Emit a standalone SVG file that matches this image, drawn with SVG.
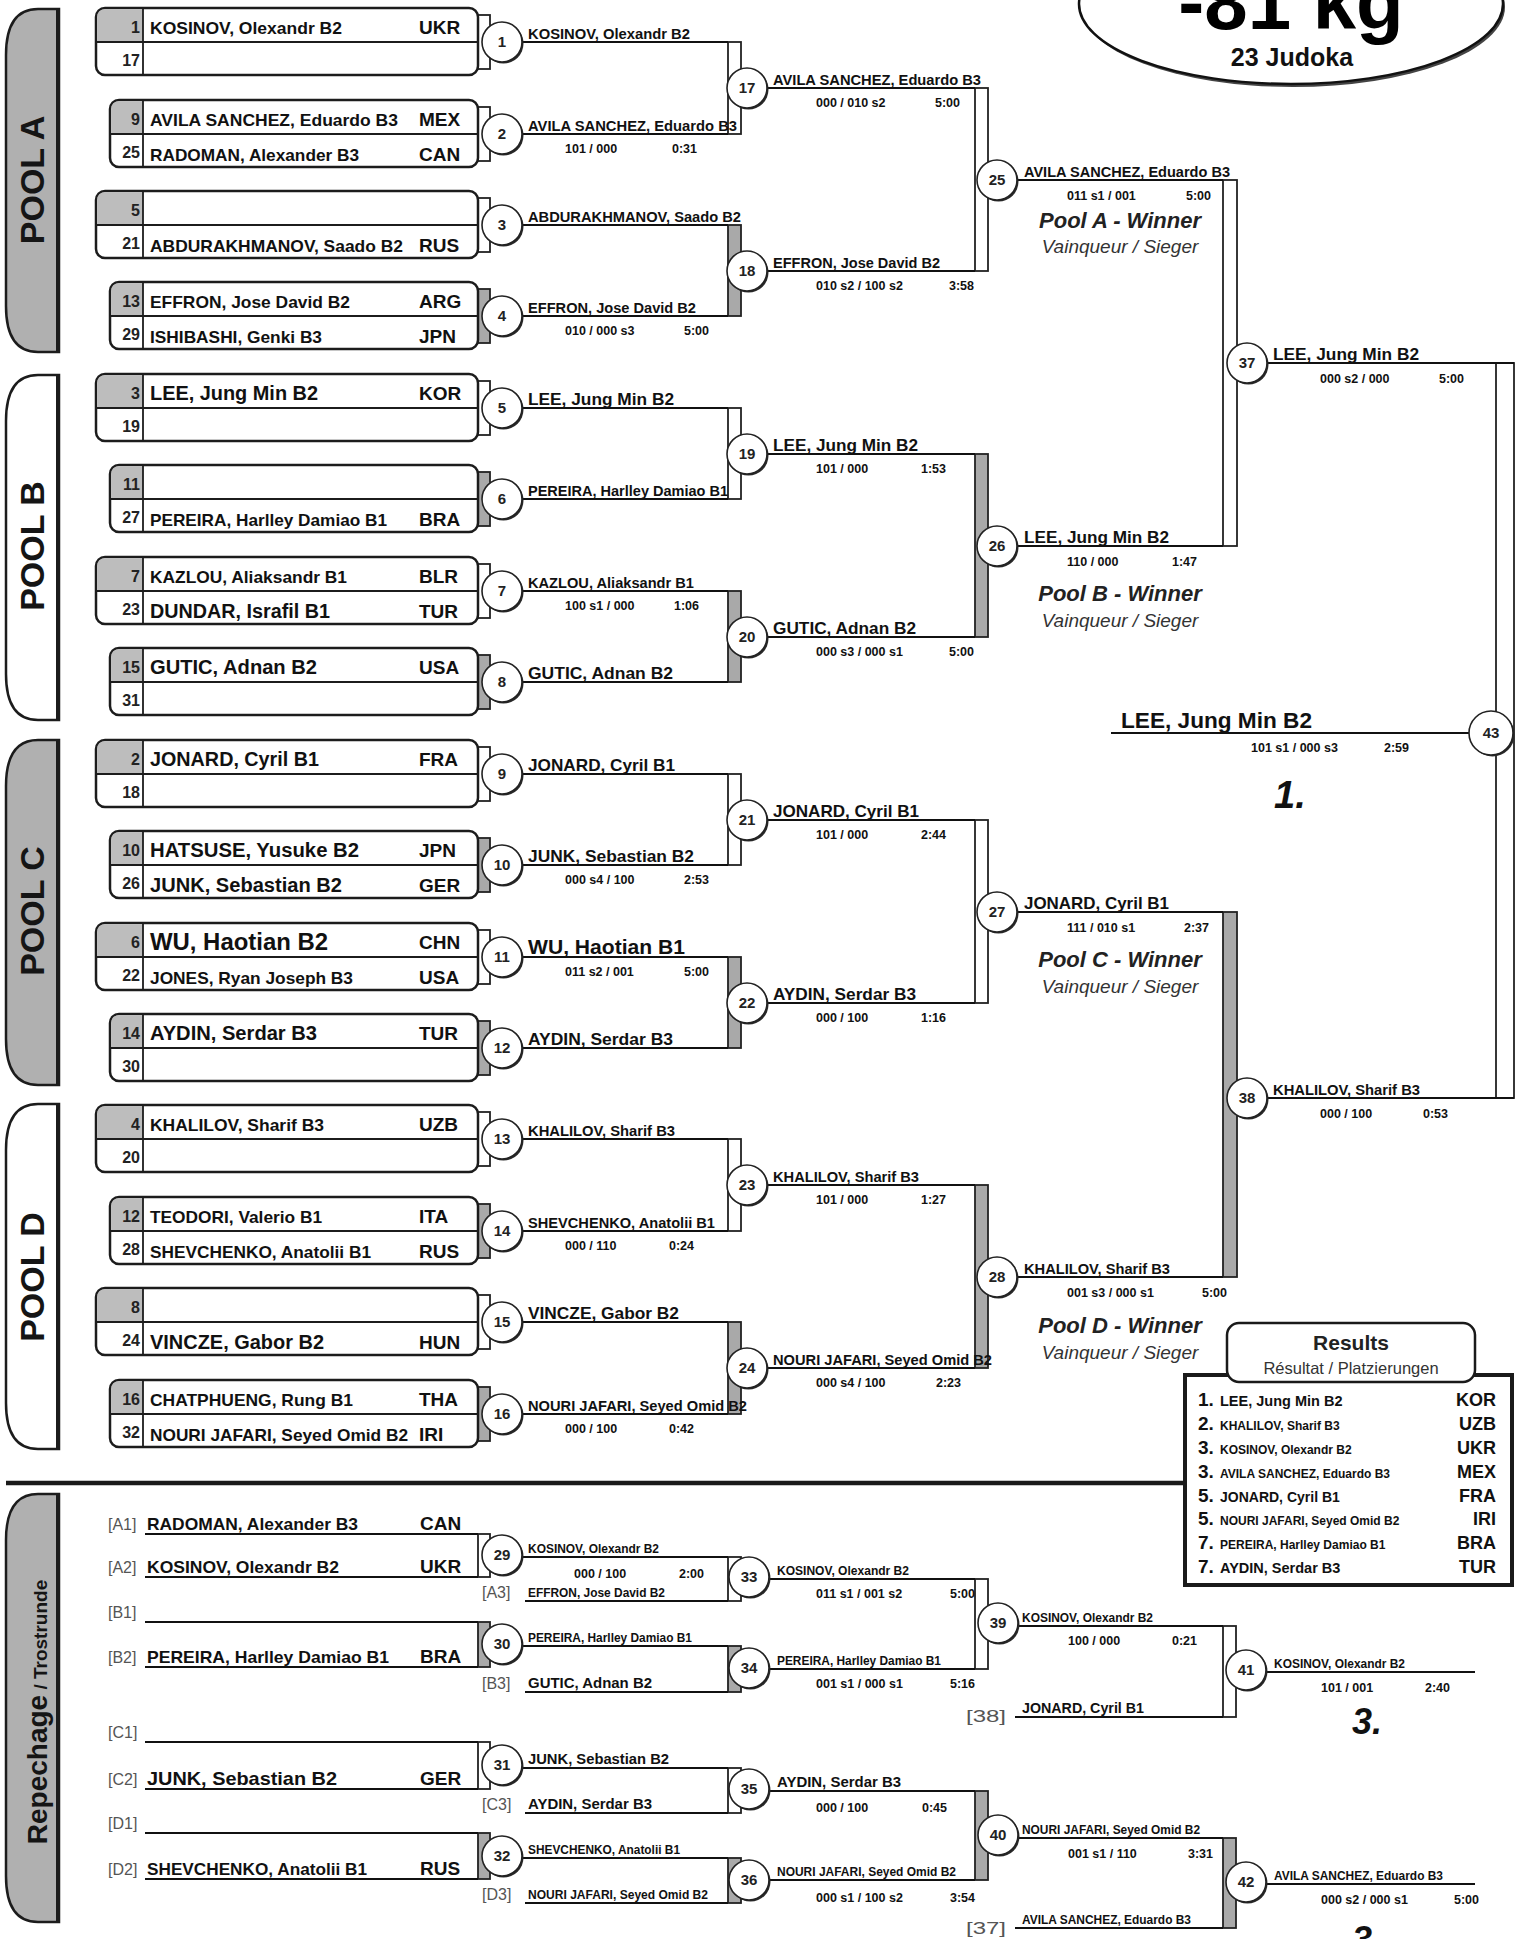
<svg xmlns="http://www.w3.org/2000/svg" width="1518" height="1939" viewBox="0 0 1518 1939">
<style>
text{font-family:"Liberation Sans",Arial,Helvetica,sans-serif}
.n{font-weight:bold;fill:#111}
.box{fill:#fff;stroke:#1c1c1c;stroke-width:2.5}
.sc{fill:#bdbdbd}
.dv{stroke:#1c1c1c;stroke-width:1.8;fill:none}
.ln{stroke:#111;stroke-width:2.2;fill:none}
.bw{fill:#fff;stroke:#222;stroke-width:1.8}
.bg{fill:#a9a9a9;stroke:#222;stroke-width:1.8}
.cs{fill:#2a2a2a}
.cw{fill:#fff;stroke:#222;stroke-width:1.6}
.cn{font-weight:bold;font-size:15px;text-anchor:middle;fill:#222}
.sd{font-weight:bold;font-size:16px;text-anchor:end;fill:#222}
.ct{font-weight:bold;font-size:19px;fill:#111}
.s{font-weight:bold;font-size:12.5px;fill:#111}
.lb{font-size:16px;fill:#555}
.tab{stroke:#1c1c1c;stroke-width:2.5}
.pt{font-weight:bold;font-size:34px;text-anchor:middle;fill:#151515}
.pw{font-weight:bold;font-style:italic;font-size:22px;text-anchor:middle;fill:#222}
.pv{font-style:italic;font-size:19px;text-anchor:middle;fill:#333}
</style>
<rect x="0" y="0" width="1518" height="1939" fill="#fff"/>

<g id="title">
<ellipse cx="1293" cy="7" rx="212" ry="80" fill="#444"/>
<ellipse cx="1291" cy="4" rx="212" ry="80" fill="#fff" stroke="#111" stroke-width="2.5"/>
<text x="1291" y="29" font-size="78" font-weight="bold" text-anchor="middle" fill="#000">-81 kg</text>
<text x="1292" y="66" font-size="25" font-weight="bold" text-anchor="middle" fill="#111">23 Judoka</text>
</g>

<g id="pool-tabs">
<g id="pool-a"><path class="tab" fill="#b0b0b0" d="M59 9H38Q6 9 6 55V306Q6 352 38 352H59Z"/><path d="M58 9V352" stroke="#1c1c1c" stroke-width="4"/><text class="pt" transform="translate(44 180) rotate(-90)">POOL A</text></g>
<g id="pool-b"><path class="tab" fill="#fff" d="M59 375H38Q6 375 6 421V674Q6 720 38 720H59Z"/><path d="M58 375V720" stroke="#1c1c1c" stroke-width="4"/><text class="pt" transform="translate(44 546) rotate(-90)">POOL B</text></g>
<g id="pool-c"><path class="tab" fill="#b0b0b0" d="M59 740H38Q6 740 6 786V1039Q6 1085 38 1085H59Z"/><path d="M58 740V1085" stroke="#1c1c1c" stroke-width="4"/><text class="pt" transform="translate(44 911) rotate(-90)">POOL C</text></g>
<g id="pool-d"><path class="tab" fill="#fff" d="M59 1104H38Q6 1104 6 1150V1403Q6 1449 38 1449H59Z"/><path d="M58 1104V1449" stroke="#1c1c1c" stroke-width="4"/><text class="pt" transform="translate(44 1277) rotate(-90)">POOL D</text></g>
<g id="repechage-tab"><path class="tab" fill="#b0b0b0" d="M59 1494H38Q6 1494 6 1540V1876Q6 1922 38 1922H59Z"/><path d="M58 1494V1922" stroke="#1c1c1c" stroke-width="4"/><text transform="translate(47 1712) rotate(-90)" text-anchor="middle" font-weight="bold" fill="#151515"><tspan font-size="28">Repechage</tspan><tspan font-size="19"> / Trostrunde</tspan></text></g>
</g>

<g id="connectors">
<g id="tabs-r1">
<rect class="bw" x="478" y="15" width="12" height="54"/>
<rect class="bw" x="478" y="107" width="12" height="54"/>
<rect class="bw" x="478" y="198" width="12" height="54"/>
<rect class="bg" x="478" y="289" width="12" height="54"/>
<rect class="bw" x="478" y="381" width="12" height="54"/>
<rect class="bg" x="478" y="472" width="12" height="54"/>
<rect class="bw" x="478" y="564" width="12" height="54"/>
<rect class="bg" x="478" y="655" width="12" height="54"/>
<rect class="bw" x="478" y="747" width="12" height="54"/>
<rect class="bg" x="478" y="838" width="12" height="54"/>
<rect class="bw" x="478" y="930" width="12" height="54"/>
<rect class="bg" x="478" y="1021" width="12" height="54"/>
<rect class="bw" x="478" y="1112" width="12" height="54"/>
<rect class="bg" x="478" y="1204" width="12" height="54"/>
<rect class="bw" x="478" y="1295" width="12" height="54"/>
<rect class="bg" x="478" y="1387" width="12" height="54"/>
</g>
<g id="bars">
<rect class="bw" x="728" y="42" width="13" height="92"/>
<rect class="bg" x="728" y="225" width="13" height="91"/>
<rect class="bw" x="728" y="408" width="13" height="91"/>
<rect class="bg" x="728" y="591" width="13" height="91"/>
<rect class="bw" x="728" y="774" width="13" height="91"/>
<rect class="bg" x="728" y="957" width="13" height="91"/>
<rect class="bw" x="728" y="1139" width="13" height="92"/>
<rect class="bg" x="728" y="1322" width="13" height="92"/>
<rect class="bw" x="975" y="88" width="13" height="183"/>
<rect class="bg" x="975" y="454" width="13" height="183"/>
<rect class="bw" x="975" y="820" width="13" height="183"/>
<rect class="bg" x="975" y="1185" width="13" height="183"/>
<rect class="bw" x="1223" y="180" width="14" height="366"/>
<rect class="bg" x="1223" y="912" width="14" height="365"/>
<rect class="bw" x="1496" y="363" width="18" height="735"/>
<rect class="bw" x="478" y="1534" width="12" height="43"/>
<rect class="bg" x="478" y="1622" width="12" height="45"/>
<rect class="bw" x="478" y="1742" width="12" height="47"/>
<rect class="bg" x="478" y="1833" width="12" height="46"/>
<rect class="bw" x="728" y="1557" width="13" height="44"/>
<rect class="bg" x="728" y="1646" width="13" height="46"/>
<rect class="bw" x="728" y="1768" width="13" height="45"/>
<rect class="bg" x="728" y="1858" width="13" height="45"/>
<rect class="bw" x="975" y="1579" width="13" height="90"/>
<rect class="bg" x="975" y="1791" width="13" height="89"/>
<rect class="bw" x="1223" y="1626" width="13" height="91"/>
<rect class="bg" x="1223" y="1838" width="13" height="90"/>
</g>
<path class="ln" d="M522 42H728M522 134H728M522 225H728M522 316H728M522 408H728M522 499H728M522 591H728M522 682H728M522 774H728M522 865H728M522 957H728M522 1048H728M522 1139H728M522 1231H728M522 1322H728M522 1414H728
M767 88H975M767 271H975M767 454H975M767 637H975M767 820H975M767 1003H975M767 1185H975M767 1368H975
M1017 180H1223M1017 546H1223M1017 912H1223M1017 1277H1223
M1267 363H1514M1267 1098H1514M1111 733H1469"/>
<path class="ln" d="M145 1534H478M145 1577H478M145 1622H478M145 1667H478M145 1742H478M145 1789H478M145 1833H478M145 1879H478
M522 1557H728M525 1601H728M522 1646H728M525 1692H728M522 1768H728M525 1813H728M522 1858H728M525 1903H728
M769 1579H975M769 1669H975M769 1791H975M769 1880H975
M1018 1626H1223M1015 1717H1223M1018 1838H1223M1015 1928H1223
M1266 1672H1475M1266 1884H1475"/>
<path d="M6 1483H1185" stroke="#1a1a1a" stroke-width="4.5"/>
</g>

<g id="entries">
<g id="entry-1-17"><rect class="box" x="96" y="8" width="382" height="67" rx="9"/><path class="sc" d="M143 9.3H105Q97.3 9.3 97.3 17V42H143Z"/><path class="dv" d="M96 42H478M143 8V75"/>
<text class="sd" x="140" y="33">1</text><text class="n" x="150" y="34" font-size="17" textLength="192" lengthAdjust="spacingAndGlyphs">KOSINOV, Olexandr B2</text><text class="ct" x="419" y="34">UKR</text><text class="sd" x="140" y="66">17</text></g>
<g id="entry-9-25"><rect class="box" x="110" y="100" width="368" height="67" rx="9"/><path class="sc" d="M143 101.3H119Q111.3 101.3 111.3 109V134H143Z"/><path class="dv" d="M110 134H478M143 100V167"/>
<text class="sd" x="140" y="125">9</text><text class="n" x="150" y="126" font-size="17" textLength="248" lengthAdjust="spacingAndGlyphs">AVILA SANCHEZ, Eduardo B3</text><text class="ct" x="419" y="126">MEX</text><text class="sd" x="140" y="158">25</text><text class="n" x="150" y="161" font-size="17" textLength="209" lengthAdjust="spacingAndGlyphs">RADOMAN, Alexander B3</text><text class="ct" x="419" y="161">CAN</text></g>
<g id="entry-5-21"><rect class="box" x="96" y="191" width="382" height="67" rx="9"/><path class="sc" d="M143 192.3H105Q97.3 192.3 97.3 200V225H143Z"/><path class="dv" d="M96 225H478M143 191V258"/>
<text class="sd" x="140" y="216">5</text><text class="sd" x="140" y="249">21</text><text class="n" x="150" y="252" font-size="17" textLength="253" lengthAdjust="spacingAndGlyphs">ABDURAKHMANOV, Saado B2</text><text class="ct" x="419" y="252">RUS</text></g>
<g id="entry-13-29"><rect class="box" x="110" y="282" width="368" height="67" rx="9"/><path class="sc" d="M143 283.3H119Q111.3 283.3 111.3 291V316H143Z"/><path class="dv" d="M110 316H478M143 282V349"/>
<text class="sd" x="140" y="307">13</text><text class="n" x="150" y="308" font-size="17" textLength="200" lengthAdjust="spacingAndGlyphs">EFFRON, Jose David B2</text><text class="ct" x="419" y="308">ARG</text><text class="sd" x="140" y="340">29</text><text class="n" x="150" y="343" font-size="17" textLength="172" lengthAdjust="spacingAndGlyphs">ISHIBASHI, Genki B3</text><text class="ct" x="419" y="343">JPN</text></g>
<g id="entry-3-19"><rect class="box" x="96" y="374" width="382" height="67" rx="9"/><path class="sc" d="M143 375.3H105Q97.3 375.3 97.3 383V408H143Z"/><path class="dv" d="M96 408H478M143 374V441"/>
<text class="sd" x="140" y="399">3</text><text class="n" x="150" y="400" font-size="20" textLength="168" lengthAdjust="spacingAndGlyphs">LEE, Jung Min B2</text><text class="ct" x="419" y="400">KOR</text><text class="sd" x="140" y="432">19</text></g>
<g id="entry-11-27"><rect class="box" x="110" y="465" width="368" height="67" rx="9"/><path class="sc" d="M143 466.3H119Q111.3 466.3 111.3 474V499H143Z"/><path class="dv" d="M110 499H478M143 465V532"/>
<text class="sd" x="140" y="490">11</text><text class="sd" x="140" y="523">27</text><text class="n" x="150" y="526" font-size="17" textLength="237" lengthAdjust="spacingAndGlyphs">PEREIRA, Harlley Damiao B1</text><text class="ct" x="419" y="526">BRA</text></g>
<g id="entry-7-23"><rect class="box" x="96" y="557" width="382" height="67" rx="9"/><path class="sc" d="M143 558.3H105Q97.3 558.3 97.3 566V591H143Z"/><path class="dv" d="M96 591H478M143 557V624"/>
<text class="sd" x="140" y="582">7</text><text class="n" x="150" y="583" font-size="17" textLength="197" lengthAdjust="spacingAndGlyphs">KAZLOU, Aliaksandr B1</text><text class="ct" x="419" y="583">BLR</text><text class="sd" x="140" y="615">23</text><text class="n" x="150" y="618" font-size="20" textLength="180" lengthAdjust="spacingAndGlyphs">DUNDAR, Israfil B1</text><text class="ct" x="419" y="618">TUR</text></g>
<g id="entry-15-31"><rect class="box" x="110" y="648" width="368" height="67" rx="9"/><path class="sc" d="M143 649.3H119Q111.3 649.3 111.3 657V682H143Z"/><path class="dv" d="M110 682H478M143 648V715"/>
<text class="sd" x="140" y="673">15</text><text class="n" x="150" y="674" font-size="20" textLength="167" lengthAdjust="spacingAndGlyphs">GUTIC, Adnan B2</text><text class="ct" x="419" y="674">USA</text><text class="sd" x="140" y="706">31</text></g>
<g id="entry-2-18"><rect class="box" x="96" y="740" width="382" height="67" rx="9"/><path class="sc" d="M143 741.3H105Q97.3 741.3 97.3 749V774H143Z"/><path class="dv" d="M96 774H478M143 740V807"/>
<text class="sd" x="140" y="765">2</text><text class="n" x="150" y="766" font-size="20" textLength="169" lengthAdjust="spacingAndGlyphs">JONARD, Cyril B1</text><text class="ct" x="419" y="766">FRA</text><text class="sd" x="140" y="798">18</text></g>
<g id="entry-10-26"><rect class="box" x="110" y="831" width="368" height="67" rx="9"/><path class="sc" d="M143 832.3H119Q111.3 832.3 111.3 840V865H143Z"/><path class="dv" d="M110 865H478M143 831V898"/>
<text class="sd" x="140" y="856">10</text><text class="n" x="150" y="857" font-size="20" textLength="209" lengthAdjust="spacingAndGlyphs">HATSUSE, Yusuke B2</text><text class="ct" x="419" y="857">JPN</text><text class="sd" x="140" y="889">26</text><text class="n" x="150" y="892" font-size="20" textLength="192" lengthAdjust="spacingAndGlyphs">JUNK, Sebastian B2</text><text class="ct" x="419" y="892">GER</text></g>
<g id="entry-6-22"><rect class="box" x="96" y="923" width="382" height="67" rx="9"/><path class="sc" d="M143 924.3H105Q97.3 924.3 97.3 932V957H143Z"/><path class="dv" d="M96 957H478M143 923V990"/>
<text class="sd" x="140" y="948">6</text><text class="n" x="150" y="950" font-size="24" textLength="178" lengthAdjust="spacingAndGlyphs">WU, Haotian B2</text><text class="ct" x="419" y="949">CHN</text><text class="sd" x="140" y="981">22</text><text class="n" x="150" y="984" font-size="17" textLength="203" lengthAdjust="spacingAndGlyphs">JONES, Ryan Joseph B3</text><text class="ct" x="419" y="984">USA</text></g>
<g id="entry-14-30"><rect class="box" x="110" y="1014" width="368" height="67" rx="9"/><path class="sc" d="M143 1015.3H119Q111.3 1015.3 111.3 1023V1048H143Z"/><path class="dv" d="M110 1048H478M143 1014V1081"/>
<text class="sd" x="140" y="1039">14</text><text class="n" x="150" y="1040" font-size="20" textLength="167" lengthAdjust="spacingAndGlyphs">AYDIN, Serdar B3</text><text class="ct" x="419" y="1040">TUR</text><text class="sd" x="140" y="1072">30</text></g>
<g id="entry-4-20"><rect class="box" x="96" y="1105" width="382" height="67" rx="9"/><path class="sc" d="M143 1106.3H105Q97.3 1106.3 97.3 1114V1139H143Z"/><path class="dv" d="M96 1139H478M143 1105V1172"/>
<text class="sd" x="140" y="1130">4</text><text class="n" x="150" y="1131" font-size="17" textLength="174" lengthAdjust="spacingAndGlyphs">KHALILOV, Sharif B3</text><text class="ct" x="419" y="1131">UZB</text><text class="sd" x="140" y="1163">20</text></g>
<g id="entry-12-28"><rect class="box" x="110" y="1197" width="368" height="67" rx="9"/><path class="sc" d="M143 1198.3H119Q111.3 1198.3 111.3 1206V1231H143Z"/><path class="dv" d="M110 1231H478M143 1197V1264"/>
<text class="sd" x="140" y="1222">12</text><text class="n" x="150" y="1223" font-size="17" textLength="172" lengthAdjust="spacingAndGlyphs">TEODORI, Valerio B1</text><text class="ct" x="419" y="1223">ITA</text><text class="sd" x="140" y="1255">28</text><text class="n" x="150" y="1258" font-size="17" textLength="221" lengthAdjust="spacingAndGlyphs">SHEVCHENKO, Anatolii B1</text><text class="ct" x="419" y="1258">RUS</text></g>
<g id="entry-8-24"><rect class="box" x="96" y="1288" width="382" height="67" rx="9"/><path class="sc" d="M143 1289.3H105Q97.3 1289.3 97.3 1297V1322H143Z"/><path class="dv" d="M96 1322H478M143 1288V1355"/>
<text class="sd" x="140" y="1313">8</text><text class="sd" x="140" y="1346">24</text><text class="n" x="150" y="1349" font-size="20" textLength="174" lengthAdjust="spacingAndGlyphs">VINCZE, Gabor B2</text><text class="ct" x="419" y="1349">HUN</text></g>
<g id="entry-16-32"><rect class="box" x="110" y="1380" width="368" height="67" rx="9"/><path class="sc" d="M143 1381.3H119Q111.3 1381.3 111.3 1389V1414H143Z"/><path class="dv" d="M110 1414H478M143 1380V1447"/>
<text class="sd" x="140" y="1405">16</text><text class="n" x="150" y="1406" font-size="17" textLength="203" lengthAdjust="spacingAndGlyphs">CHATPHUENG, Rung B1</text><text class="ct" x="419" y="1406">THA</text><text class="sd" x="140" y="1438">32</text><text class="n" x="150" y="1441" font-size="17" textLength="258" lengthAdjust="spacingAndGlyphs">NOURI JAFARI, Seyed Omid B2</text><text class="ct" x="419" y="1441">IRI</text></g>
</g>

<g id="matches">
<g id="m1"><circle class="cs" cx="503.5" cy="43.5" r="20"/><circle class="cw" cx="502" cy="42" r="20"/><text class="cn" x="502" y="47">1</text></g>
<g id="m2"><circle class="cs" cx="503.5" cy="135.5" r="20"/><circle class="cw" cx="502" cy="134" r="20"/><text class="cn" x="502" y="139">2</text></g>
<g id="m3"><circle class="cs" cx="503.5" cy="226.5" r="20"/><circle class="cw" cx="502" cy="225" r="20"/><text class="cn" x="502" y="230">3</text></g>
<g id="m4"><circle class="cs" cx="503.5" cy="317.5" r="20"/><circle class="cw" cx="502" cy="316" r="20"/><text class="cn" x="502" y="321">4</text></g>
<g id="m5"><circle class="cs" cx="503.5" cy="409.5" r="20"/><circle class="cw" cx="502" cy="408" r="20"/><text class="cn" x="502" y="413">5</text></g>
<g id="m6"><circle class="cs" cx="503.5" cy="500.5" r="20"/><circle class="cw" cx="502" cy="499" r="20"/><text class="cn" x="502" y="504">6</text></g>
<g id="m7"><circle class="cs" cx="503.5" cy="592.5" r="20"/><circle class="cw" cx="502" cy="591" r="20"/><text class="cn" x="502" y="596">7</text></g>
<g id="m8"><circle class="cs" cx="503.5" cy="683.5" r="20"/><circle class="cw" cx="502" cy="682" r="20"/><text class="cn" x="502" y="687">8</text></g>
<g id="m9"><circle class="cs" cx="503.5" cy="775.5" r="20"/><circle class="cw" cx="502" cy="774" r="20"/><text class="cn" x="502" y="779">9</text></g>
<g id="m10"><circle class="cs" cx="503.5" cy="866.5" r="20"/><circle class="cw" cx="502" cy="865" r="20"/><text class="cn" x="502" y="870">10</text></g>
<g id="m11"><circle class="cs" cx="503.5" cy="958.5" r="20"/><circle class="cw" cx="502" cy="957" r="20"/><text class="cn" x="502" y="962">11</text></g>
<g id="m12"><circle class="cs" cx="503.5" cy="1049.5" r="20"/><circle class="cw" cx="502" cy="1048" r="20"/><text class="cn" x="502" y="1053">12</text></g>
<g id="m13"><circle class="cs" cx="503.5" cy="1140.5" r="20"/><circle class="cw" cx="502" cy="1139" r="20"/><text class="cn" x="502" y="1144">13</text></g>
<g id="m14"><circle class="cs" cx="503.5" cy="1232.5" r="20"/><circle class="cw" cx="502" cy="1231" r="20"/><text class="cn" x="502" y="1236">14</text></g>
<g id="m15"><circle class="cs" cx="503.5" cy="1323.5" r="20"/><circle class="cw" cx="502" cy="1322" r="20"/><text class="cn" x="502" y="1327">15</text></g>
<g id="m16"><circle class="cs" cx="503.5" cy="1415.5" r="20"/><circle class="cw" cx="502" cy="1414" r="20"/><text class="cn" x="502" y="1419">16</text></g>
<g id="m17"><circle class="cs" cx="748.5" cy="89.5" r="20"/><circle class="cw" cx="747" cy="88" r="20"/><text class="cn" x="747" y="93">17</text></g>
<g id="m18"><circle class="cs" cx="748.5" cy="272.5" r="20"/><circle class="cw" cx="747" cy="271" r="20"/><text class="cn" x="747" y="276">18</text></g>
<g id="m19"><circle class="cs" cx="748.5" cy="455.5" r="20"/><circle class="cw" cx="747" cy="454" r="20"/><text class="cn" x="747" y="459">19</text></g>
<g id="m20"><circle class="cs" cx="748.5" cy="638.5" r="20"/><circle class="cw" cx="747" cy="637" r="20"/><text class="cn" x="747" y="642">20</text></g>
<g id="m21"><circle class="cs" cx="748.5" cy="821.5" r="20"/><circle class="cw" cx="747" cy="820" r="20"/><text class="cn" x="747" y="825">21</text></g>
<g id="m22"><circle class="cs" cx="748.5" cy="1004.5" r="20"/><circle class="cw" cx="747" cy="1003" r="20"/><text class="cn" x="747" y="1008">22</text></g>
<g id="m23"><circle class="cs" cx="748.5" cy="1186.5" r="20"/><circle class="cw" cx="747" cy="1185" r="20"/><text class="cn" x="747" y="1190">23</text></g>
<g id="m24"><circle class="cs" cx="748.5" cy="1369.5" r="20"/><circle class="cw" cx="747" cy="1368" r="20"/><text class="cn" x="747" y="1373">24</text></g>
<g id="m25"><circle class="cs" cx="998.5" cy="181.5" r="20"/><circle class="cw" cx="997" cy="180" r="20"/><text class="cn" x="997" y="185">25</text></g>
<g id="m26"><circle class="cs" cx="998.5" cy="547.5" r="20"/><circle class="cw" cx="997" cy="546" r="20"/><text class="cn" x="997" y="551">26</text></g>
<g id="m27"><circle class="cs" cx="998.5" cy="913.5" r="20"/><circle class="cw" cx="997" cy="912" r="20"/><text class="cn" x="997" y="917">27</text></g>
<g id="m28"><circle class="cs" cx="998.5" cy="1278.5" r="20"/><circle class="cw" cx="997" cy="1277" r="20"/><text class="cn" x="997" y="1282">28</text></g>
<g id="m37"><circle class="cs" cx="1248.5" cy="364.5" r="20"/><circle class="cw" cx="1247" cy="363" r="20"/><text class="cn" x="1247" y="368">37</text></g>
<g id="m38"><circle class="cs" cx="1248.5" cy="1099.5" r="20"/><circle class="cw" cx="1247" cy="1098" r="20"/><text class="cn" x="1247" y="1103">38</text></g>
<g id="m43"><circle class="cs" cx="1492.5" cy="734.5" r="22"/><circle class="cw" cx="1491" cy="733" r="22"/><text class="cn" x="1491" y="738">43</text></g>
<g id="m29"><circle class="cs" cx="503.5" cy="1556.5" r="20"/><circle class="cw" cx="502" cy="1555" r="20"/><text class="cn" x="502" y="1560">29</text></g>
<g id="m30"><circle class="cs" cx="503.5" cy="1645.5" r="20"/><circle class="cw" cx="502" cy="1644" r="20"/><text class="cn" x="502" y="1649">30</text></g>
<g id="m31"><circle class="cs" cx="503.5" cy="1766.5" r="20"/><circle class="cw" cx="502" cy="1765" r="20"/><text class="cn" x="502" y="1770">31</text></g>
<g id="m32"><circle class="cs" cx="503.5" cy="1857.5" r="20"/><circle class="cw" cx="502" cy="1856" r="20"/><text class="cn" x="502" y="1861">32</text></g>
<g id="m33"><circle class="cs" cx="750.5" cy="1578.5" r="20"/><circle class="cw" cx="749" cy="1577" r="20"/><text class="cn" x="749" y="1582">33</text></g>
<g id="m34"><circle class="cs" cx="750.5" cy="1669.5" r="20"/><circle class="cw" cx="749" cy="1668" r="20"/><text class="cn" x="749" y="1673">34</text></g>
<g id="m35"><circle class="cs" cx="750.5" cy="1790.5" r="20"/><circle class="cw" cx="749" cy="1789" r="20"/><text class="cn" x="749" y="1794">35</text></g>
<g id="m36"><circle class="cs" cx="750.5" cy="1881.5" r="20"/><circle class="cw" cx="749" cy="1880" r="20"/><text class="cn" x="749" y="1885">36</text></g>
<g id="m39"><circle class="cs" cx="999.5" cy="1624.5" r="20"/><circle class="cw" cx="998" cy="1623" r="20"/><text class="cn" x="998" y="1628">39</text></g>
<g id="m40"><circle class="cs" cx="999.5" cy="1836.5" r="20"/><circle class="cw" cx="998" cy="1835" r="20"/><text class="cn" x="998" y="1840">40</text></g>
<g id="m41"><circle class="cs" cx="1247.5" cy="1671.5" r="20"/><circle class="cw" cx="1246" cy="1670" r="20"/><text class="cn" x="1246" y="1675">41</text></g>
<g id="m42"><circle class="cs" cx="1247.5" cy="1883.5" r="20"/><circle class="cw" cx="1246" cy="1882" r="20"/><text class="cn" x="1246" y="1887">42</text></g>
</g>

<g id="results-labels">
<text class="n" x="528" y="39" font-size="14.5" textLength="162" lengthAdjust="spacingAndGlyphs">KOSINOV, Olexandr B2</text>
<text class="n" x="528" y="131" font-size="14.5" textLength="209" lengthAdjust="spacingAndGlyphs">AVILA SANCHEZ, Eduardo B3</text>
<text class="s" x="565" y="153">101 / 000</text><text class="s" x="672" y="153">0:31</text>
<text class="n" x="528" y="222" font-size="14.5" textLength="213" lengthAdjust="spacingAndGlyphs">ABDURAKHMANOV, Saado B2</text>
<text class="n" x="528" y="313" font-size="14.5" textLength="168" lengthAdjust="spacingAndGlyphs">EFFRON, Jose David B2</text>
<text class="s" x="565" y="335">010 / 000 s3</text><text class="s" x="684" y="335">5:00</text>
<text class="n" x="528" y="405" font-size="17" textLength="146" lengthAdjust="spacingAndGlyphs">LEE, Jung Min B2</text>
<text class="n" x="528" y="496" font-size="15" textLength="200" lengthAdjust="spacingAndGlyphs">PEREIRA, Harlley Damiao B1</text>
<text class="n" x="528" y="588" font-size="14.5" textLength="166" lengthAdjust="spacingAndGlyphs">KAZLOU, Aliaksandr B1</text>
<text class="s" x="565" y="610">100 s1 / 000</text><text class="s" x="674" y="610">1:06</text>
<text class="n" x="528" y="679" font-size="17" textLength="145" lengthAdjust="spacingAndGlyphs">GUTIC, Adnan B2</text>
<text class="n" x="528" y="771" font-size="17" textLength="147" lengthAdjust="spacingAndGlyphs">JONARD, Cyril B1</text>
<text class="n" x="528" y="862" font-size="17" textLength="166" lengthAdjust="spacingAndGlyphs">JUNK, Sebastian B2</text>
<text class="s" x="565" y="884">000 s4 / 100</text><text class="s" x="684" y="884">2:53</text>
<text class="n" x="528" y="954" font-size="21" textLength="157" lengthAdjust="spacingAndGlyphs">WU, Haotian B1</text>
<text class="s" x="565" y="976">011 s2 / 001</text><text class="s" x="684" y="976">5:00</text>
<text class="n" x="528" y="1045" font-size="17" textLength="145" lengthAdjust="spacingAndGlyphs">AYDIN, Serdar B3</text>
<text class="n" x="528" y="1136" font-size="14.5" textLength="147" lengthAdjust="spacingAndGlyphs">KHALILOV, Sharif B3</text>
<text class="n" x="528" y="1228" font-size="15" textLength="187" lengthAdjust="spacingAndGlyphs">SHEVCHENKO, Anatolii B1</text>
<text class="s" x="565" y="1250">000 / 110</text><text class="s" x="669" y="1250">0:24</text>
<text class="n" x="528" y="1319" font-size="17" textLength="151" lengthAdjust="spacingAndGlyphs">VINCZE, Gabor B2</text>
<text class="n" x="528" y="1411" font-size="14.5" textLength="219" lengthAdjust="spacingAndGlyphs">NOURI JAFARI, Seyed Omid B2</text>
<text class="s" x="565" y="1433">000 / 100</text><text class="s" x="669" y="1433">0:42</text>

<text class="n" x="773" y="85" font-size="14.5" textLength="208" lengthAdjust="spacingAndGlyphs">AVILA SANCHEZ, Eduardo B3</text>
<text class="s" x="816" y="107">000 / 010 s2</text><text class="s" x="935" y="107">5:00</text>
<text class="n" x="773" y="268" font-size="14.5" textLength="167" lengthAdjust="spacingAndGlyphs">EFFRON, Jose David B2</text>
<text class="s" x="816" y="290">010 s2 / 100 s2</text><text class="s" x="949" y="290">3:58</text>
<text class="n" x="773" y="451" font-size="17" textLength="145" lengthAdjust="spacingAndGlyphs">LEE, Jung Min B2</text>
<text class="s" x="816" y="473">101 / 000</text><text class="s" x="921" y="473">1:53</text>
<text class="n" x="773" y="634" font-size="17" textLength="143" lengthAdjust="spacingAndGlyphs">GUTIC, Adnan B2</text>
<text class="s" x="816" y="656">000 s3 / 000 s1</text><text class="s" x="949" y="656">5:00</text>
<text class="n" x="773" y="817" font-size="17" textLength="146" lengthAdjust="spacingAndGlyphs">JONARD, Cyril B1</text>
<text class="s" x="816" y="839">101 / 000</text><text class="s" x="921" y="839">2:44</text>
<text class="n" x="773" y="1000" font-size="17" textLength="143" lengthAdjust="spacingAndGlyphs">AYDIN, Serdar B3</text>
<text class="s" x="816" y="1022">000 / 100</text><text class="s" x="921" y="1022">1:16</text>
<text class="n" x="773" y="1182" font-size="14.5" textLength="146" lengthAdjust="spacingAndGlyphs">KHALILOV, Sharif B3</text>
<text class="s" x="816" y="1204">101 / 000</text><text class="s" x="921" y="1204">1:27</text>
<text class="n" x="773" y="1365" font-size="14.5" textLength="219" lengthAdjust="spacingAndGlyphs">NOURI JAFARI, Seyed Omid B2</text>
<text class="s" x="816" y="1387">000 s4 / 100</text><text class="s" x="936" y="1387">2:23</text>

<text class="n" x="1024" y="177" font-size="14.5" textLength="206" lengthAdjust="spacingAndGlyphs">AVILA SANCHEZ, Eduardo B3</text>
<text class="s" x="1067" y="200">011 s1 / 001</text><text class="s" x="1186" y="200">5:00</text>
<text class="pw" x="1120" y="228">Pool A - Winner</text><text class="pv" x="1120" y="253">Vainqueur / Sieger</text>
<text class="n" x="1024" y="543" font-size="17" textLength="145" lengthAdjust="spacingAndGlyphs">LEE, Jung Min B2</text>
<text class="s" x="1067" y="566">110 / 000</text><text class="s" x="1172" y="566">1:47</text>
<text class="pw" x="1120" y="601">Pool B - Winner</text><text class="pv" x="1120" y="627">Vainqueur / Sieger</text>
<text class="n" x="1024" y="909" font-size="17" textLength="145" lengthAdjust="spacingAndGlyphs">JONARD, Cyril B1</text>
<text class="s" x="1067" y="932">111 / 010 s1</text><text class="s" x="1184" y="932">2:37</text>
<text class="pw" x="1120" y="967">Pool C - Winner</text><text class="pv" x="1120" y="993">Vainqueur / Sieger</text>
<text class="n" x="1024" y="1274" font-size="14.5" textLength="146" lengthAdjust="spacingAndGlyphs">KHALILOV, Sharif B3</text>
<text class="s" x="1067" y="1297">001 s3 / 000 s1</text><text class="s" x="1202" y="1297">5:00</text>
<text class="pw" x="1120" y="1333">Pool D - Winner</text><text class="pv" x="1120" y="1359">Vainqueur / Sieger</text>

<text class="n" x="1273" y="360" font-size="17" textLength="146" lengthAdjust="spacingAndGlyphs">LEE, Jung Min B2</text>
<text class="s" x="1320" y="383">000 s2 / 000</text><text class="s" x="1439" y="383">5:00</text>
<text class="n" x="1273" y="1095" font-size="14.5" textLength="147" lengthAdjust="spacingAndGlyphs">KHALILOV, Sharif B3</text>
<text class="s" x="1320" y="1118">000 / 100</text><text class="s" x="1423" y="1118">0:53</text>

<text class="n" x="1121" y="728" font-size="22" textLength="191" lengthAdjust="spacingAndGlyphs">LEE, Jung Min B2</text>
<text class="s" x="1251" y="752">101 s1 / 000 s3</text><text class="s" x="1384" y="752">2:59</text>
<text x="1274" y="808" font-size="38" font-weight="bold" font-style="italic" fill="#111">1.</text>
</g>

<g id="repechage">
<text class="lb" x="108" y="1530">[A1]</text><text class="n" x="147" y="1530" font-size="17" textLength="211" lengthAdjust="spacingAndGlyphs">RADOMAN, Alexander B3</text><text class="ct" x="420" y="1530" font-size="18">CAN</text>
<text class="lb" x="108" y="1573">[A2]</text><text class="n" x="147" y="1573" font-size="17" textLength="192" lengthAdjust="spacingAndGlyphs">KOSINOV, Olexandr B2</text><text class="ct" x="420" y="1573" font-size="18">UKR</text>
<text class="lb" x="108" y="1618">[B1]</text>
<text class="lb" x="108" y="1663">[B2]</text><text class="n" x="147" y="1663" font-size="17" textLength="242" lengthAdjust="spacingAndGlyphs">PEREIRA, Harlley Damiao B1</text><text class="ct" x="420" y="1663" font-size="18">BRA</text>
<text class="lb" x="108" y="1738">[C1]</text>
<text class="lb" x="108" y="1785">[C2]</text><text class="n" x="147" y="1785" font-size="19" textLength="190" lengthAdjust="spacingAndGlyphs">JUNK, Sebastian B2</text><text class="ct" x="420" y="1785" font-size="18">GER</text>
<text class="lb" x="108" y="1829">[D1]</text>
<text class="lb" x="108" y="1875">[D2]</text><text class="n" x="147" y="1875" font-size="17" textLength="220" lengthAdjust="spacingAndGlyphs">SHEVCHENKO, Anatolii B1</text><text class="ct" x="420" y="1875" font-size="18">RUS</text>

<text class="n" x="528" y="1553" font-size="12" textLength="131" lengthAdjust="spacingAndGlyphs">KOSINOV, Olexandr B2</text>
<text class="s" x="574" y="1578">000 / 100</text><text class="s" x="679" y="1578">2:00</text>
<text class="lb" x="482" y="1598">[A3]</text><text class="n" x="528" y="1597" font-size="12" textLength="137" lengthAdjust="spacingAndGlyphs">EFFRON, Jose David B2</text>
<text class="n" x="528" y="1642" font-size="12" textLength="164" lengthAdjust="spacingAndGlyphs">PEREIRA, Harlley Damiao B1</text>
<text class="lb" x="482" y="1689">[B3]</text><text class="n" x="528" y="1688" font-size="14" textLength="124" lengthAdjust="spacingAndGlyphs">GUTIC, Adnan B2</text>
<text class="n" x="528" y="1764" font-size="14" textLength="141" lengthAdjust="spacingAndGlyphs">JUNK, Sebastian B2</text>
<text class="lb" x="482" y="1810">[C3]</text><text class="n" x="528" y="1809" font-size="14" textLength="124" lengthAdjust="spacingAndGlyphs">AYDIN, Serdar B3</text>
<text class="n" x="528" y="1854" font-size="12" textLength="152" lengthAdjust="spacingAndGlyphs">SHEVCHENKO, Anatolii B1</text>
<text class="lb" x="482" y="1900">[D3]</text><text class="n" x="528" y="1899" font-size="12" textLength="180" lengthAdjust="spacingAndGlyphs">NOURI JAFARI, Seyed Omid B2</text>

<text class="n" x="777" y="1575" font-size="12" textLength="132" lengthAdjust="spacingAndGlyphs">KOSINOV, Olexandr B2</text>
<text class="s" x="816" y="1598">011 s1 / 001 s2</text><text class="s" x="950" y="1598">5:00</text>
<text class="n" x="777" y="1665" font-size="12" textLength="164" lengthAdjust="spacingAndGlyphs">PEREIRA, Harlley Damiao B1</text>
<text class="s" x="816" y="1688">001 s1 / 000 s1</text><text class="s" x="950" y="1688">5:16</text>
<text class="n" x="777" y="1787" font-size="15" textLength="124" lengthAdjust="spacingAndGlyphs">AYDIN, Serdar B3</text>
<text class="s" x="816" y="1812">000 / 100</text><text class="s" x="922" y="1812">0:45</text>
<text class="n" x="777" y="1876" font-size="12" textLength="179" lengthAdjust="spacingAndGlyphs">NOURI JAFARI, Seyed Omid B2</text>
<text class="s" x="816" y="1902">000 s1 / 100 s2</text><text class="s" x="950" y="1902">3:54</text>

<text class="n" x="1022" y="1622" font-size="12" textLength="131" lengthAdjust="spacingAndGlyphs">KOSINOV, Olexandr B2</text>
<text class="s" x="1068" y="1645">100 / 000</text><text class="s" x="1172" y="1645">0:21</text>
<text class="lb" x="966" y="1722" font-size="24" textLength="40" lengthAdjust="spacingAndGlyphs">[38]</text><text class="n" x="1022" y="1713" font-size="14" textLength="122" lengthAdjust="spacingAndGlyphs">JONARD, Cyril B1</text>
<text class="n" x="1022" y="1834" font-size="12" textLength="178" lengthAdjust="spacingAndGlyphs">NOURI JAFARI, Seyed Omid B2</text>
<text class="s" x="1068" y="1858">001 s1 / 110</text><text class="s" x="1188" y="1858">3:31</text>
<text class="lb" x="966" y="1934" font-size="24" textLength="40" lengthAdjust="spacingAndGlyphs">[37]</text><text class="n" x="1022" y="1924" font-size="12" textLength="169" lengthAdjust="spacingAndGlyphs">AVILA SANCHEZ, Eduardo B3</text>

<text class="n" x="1274" y="1668" font-size="12" textLength="131" lengthAdjust="spacingAndGlyphs">KOSINOV, Olexandr B2</text>
<text class="s" x="1321" y="1692">101 / 001</text><text class="s" x="1425" y="1692">2:40</text>
<text x="1352" y="1734" font-size="36" font-weight="bold" font-style="italic" fill="#111">3.</text>
<text class="n" x="1274" y="1880" font-size="12" textLength="169" lengthAdjust="spacingAndGlyphs">AVILA SANCHEZ, Eduardo B3</text>
<text class="s" x="1321" y="1904">000 s2 / 000 s1</text><text class="s" x="1454" y="1904">5:00</text>
<text x="1352" y="1952" font-size="36" font-weight="bold" font-style="italic" fill="#111">3.</text>
</g>

<g id="results-box">
<rect x="1185" y="1375" width="327" height="210" fill="#fff" stroke="#1a1a1a" stroke-width="4"/>
<rect x="1227" y="1323" width="248" height="59" rx="12" fill="#fff" stroke="#1a1a1a" stroke-width="2.5"/>
<text x="1351" y="1350" font-size="21" font-weight="bold" text-anchor="middle" fill="#222">Results</text>
<text x="1351" y="1374" font-size="16.5" text-anchor="middle" fill="#333">Résultat / Platzierungen</text>
<g font-weight="bold" fill="#111">
<text x="1198" y="1406" font-size="19">1.</text><text x="1220" y="1406" font-size="14.5">LEE, Jung Min B2</text><text x="1496" y="1406" font-size="18" text-anchor="end">KOR</text>
<text x="1198" y="1430" font-size="19">2.</text><text x="1220" y="1430" font-size="12">KHALILOV, Sharif B3</text><text x="1496" y="1430" font-size="18" text-anchor="end">UZB</text>
<text x="1198" y="1454" font-size="19">3.</text><text x="1220" y="1454" font-size="12">KOSINOV, Olexandr B2</text><text x="1496" y="1454" font-size="18" text-anchor="end">UKR</text>
<text x="1198" y="1478" font-size="19">3.</text><text x="1220" y="1478" font-size="12">AVILA SANCHEZ, Eduardo B3</text><text x="1496" y="1478" font-size="18" text-anchor="end">MEX</text>
<text x="1198" y="1502" font-size="19">5.</text><text x="1220" y="1502" font-size="14">JONARD, Cyril B1</text><text x="1496" y="1502" font-size="18" text-anchor="end">FRA</text>
<text x="1198" y="1525" font-size="19">5.</text><text x="1220" y="1525" font-size="12">NOURI JAFARI, Seyed Omid B2</text><text x="1496" y="1525" font-size="18" text-anchor="end">IRI</text>
<text x="1198" y="1549" font-size="19">7.</text><text x="1220" y="1549" font-size="12">PEREIRA, Harlley Damiao B1</text><text x="1496" y="1549" font-size="18" text-anchor="end">BRA</text>
<text x="1198" y="1573" font-size="19">7.</text><text x="1220" y="1573" font-size="14.5">AYDIN, Serdar B3</text><text x="1496" y="1573" font-size="18" text-anchor="end">TUR</text>
</g>
</g>
</svg>
